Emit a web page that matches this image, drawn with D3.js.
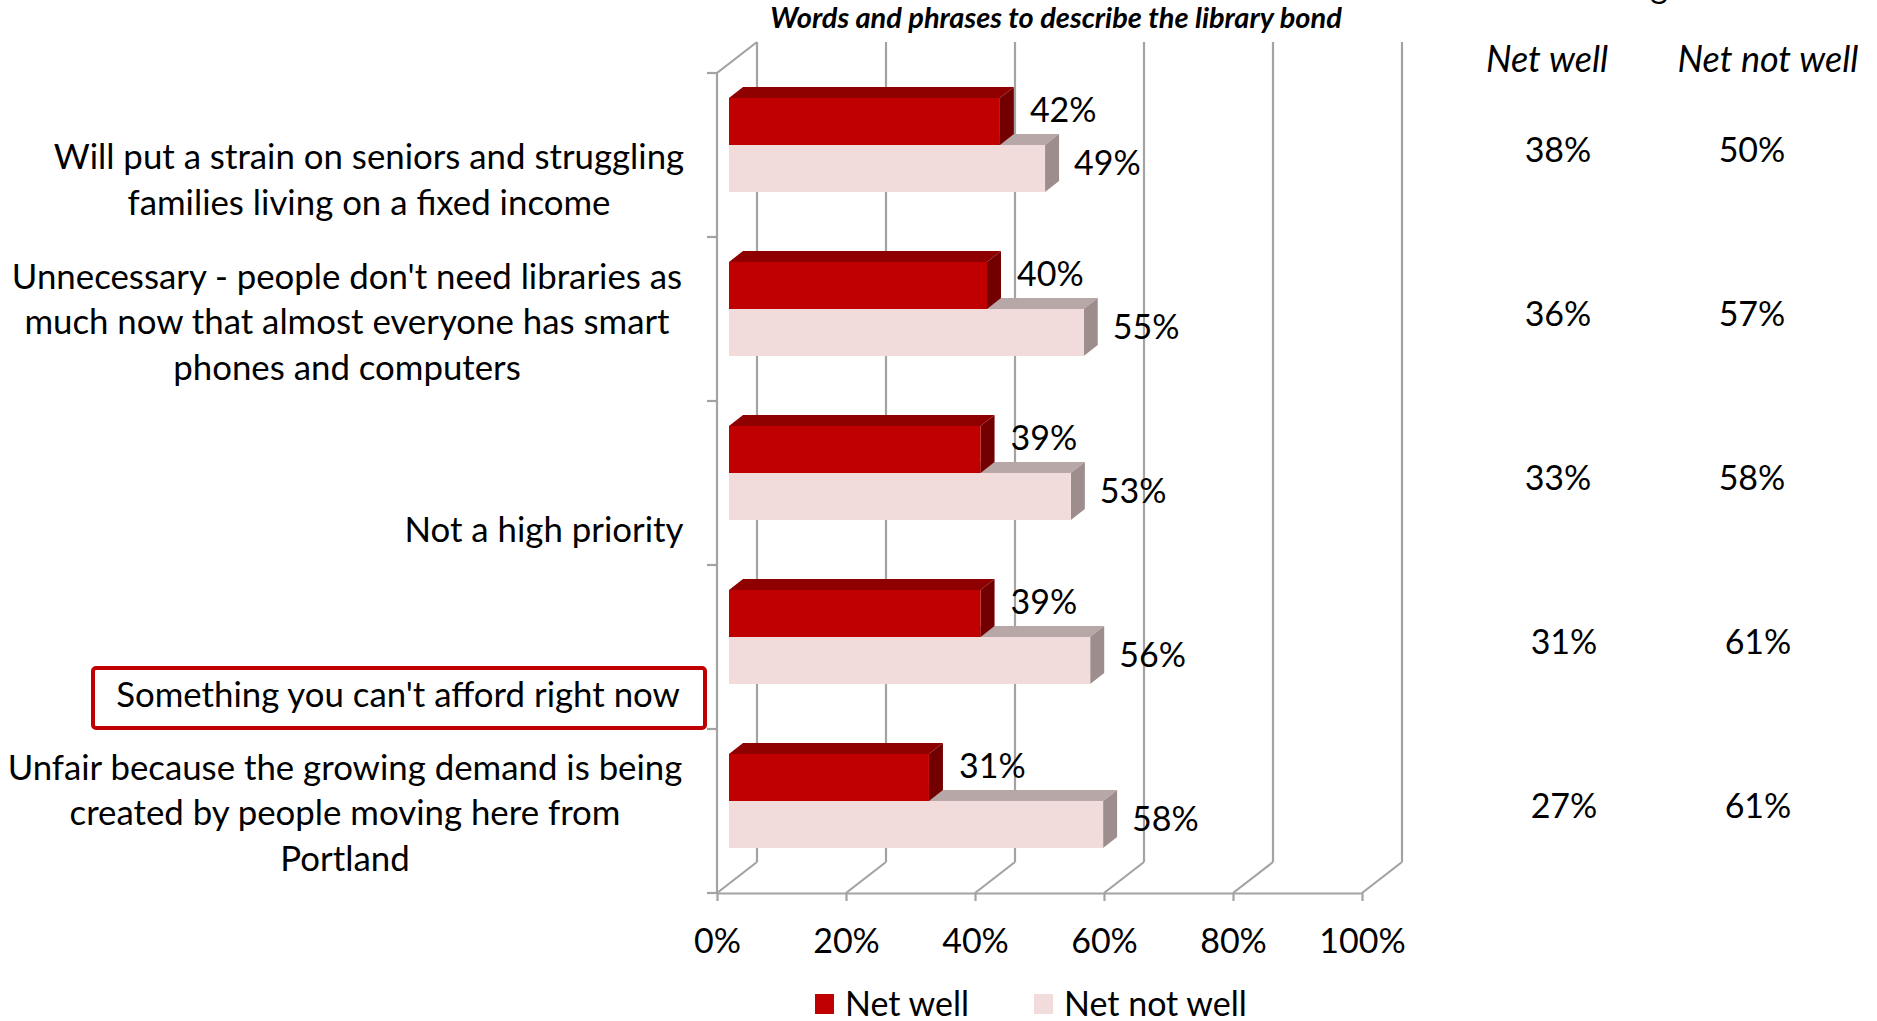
<!DOCTYPE html>
<html>
<head>
<meta charset="utf-8">
<script src="https://cdn.jsdelivr.net/npm/d3@7"></script>
<style>
  body { margin: 0; background: #fff; }
  text { font-family: Lato, "Noto Sans", sans-serif; fill: #000; }
</style>
</head>
<body>
<script>
/* data */
const categoryLines = [
  ["Will put a strain on seniors and struggling", "families living on a fixed income"],
  ["Unnecessary - people don't need libraries as", "much now that almost everyone has smart", "phones and computers"],
  ["Not a high priority"],
  ["Something you can't afford right now"],
  ["Unfair because the growing demand is being", "created by people moving here from", "Portland"]
];
const netWell = [42, 40, 39, 39, 31];
const netNotWell = [49, 55, 53, 56, 58];
const tableNetWell = [38, 36, 33, 31, 27];
const tableNetNotWell = [50, 57, 58, 61, 61];
const xTicks = [0, 20, 40, 60, 80, 100];
const seriesNames = ["Net well", "Net not well"];
const highlighted = 3; // boxed category

/* layout */
const width = 1877, height = 1021;
const fs = 34;          // numbers
const catFs = 34.8;     // category text
const depthX = 40, depthY = 31;      // wall depth
const barDX = 14, barDY = 11;        // bar depth
const barShift = 12;                 // bars sit a bit into the depth
const barH = 47;
const labelShift = [25, 3, 47, 48, 2]; // category text offsets from band centre
const colors = {
  well: { front: "#c00000", top: "#8e0000", side: "#730000" },
  notWell: { front: "#f2dcdb", top: "#b8a7a7", side: "#9d8d8d" },
  grid: "#a3a3a3"
};

const svg = d3.select('body').append('svg')
  .attr('width', width)
  .attr('height', height);

const x = d3.scaleLinear().domain([0, 100]).range([717, 1362]);
const y = d3.scaleBand().domain(d3.range(categoryLines.length)).range([73, 893]);
const yTop = y.range()[0], yBottom = y.range()[1];

/* walls and gridlines */
const grid = svg.append('g')
  .attr('stroke', colors.grid)
  .attr('stroke-width', 2.2)
  .attr('fill', 'none');

grid.selectAll('.back')
  .data(xTicks)
  .join('line')
  .attr('x1', d => x(d) + depthX).attr('x2', d => x(d) + depthX)
  .attr('y1', yTop - depthY).attr('y2', yBottom - depthY);

grid.selectAll('.floor')
  .data(xTicks)
  .join('line')
  .attr('x1', d => x(d)).attr('x2', d => x(d) + depthX)
  .attr('y1', yBottom).attr('y2', yBottom - depthY);

// left wall front edge + top edge
grid.append('path')
  .attr('d', `M${x(0) + depthX},${yTop - depthY}L${x(0)},${yTop}L${x(0)},${yBottom}`);

// category ticks on the wall
grid.selectAll('.ytick')
  .data(d3.range(categoryLines.length + 1))
  .join('line')
  .attr('x1', x(0) - 10).attr('x2', x(0))
  .attr('y1', i => i < categoryLines.length ? y(i) : yBottom)
  .attr('y2', i => i < categoryLines.length ? y(i) : yBottom);

/* x axis */
const xAxis = d3.axisBottom(x)
  .tickValues(xTicks)
  .tickFormat(d => d + '%')
  .tickSizeInner(8)
  .tickSizeOuter(0)
  .tickPadding(28);

const axisG = svg.append('g')
  .attr('transform', `translate(0,${yBottom})`)
  .call(xAxis);
axisG.selectAll('path, line').attr('stroke', colors.grid).attr('stroke-width', 2.2);
axisG.selectAll('text')
  .attr('font-size', fs)
  .style('font-family', 'Lato, sans-serif')
  .attr('fill', '#000');

/* 3d bars */
function bar3d(g, x0, x1, top, h, c) {
  g.append('polygon')
    .attr('points', [[x0, top], [x0 + barDX, top - barDY], [x1 + barDX, top - barDY], [x1, top]].join(' '))
    .attr('fill', c.top);
  g.append('polygon')
    .attr('points', [[x1, top], [x1 + barDX, top - barDY], [x1 + barDX, top + h - barDY], [x1, top + h]].join(' '))
    .attr('fill', c.side);
  g.append('rect')
    .attr('x', x0).attr('y', top)
    .attr('width', x1 - x0).attr('height', h)
    .attr('fill', c.front);
}

const bars = svg.append('g');
categoryLines.forEach((_, i) => {
  const g = bars.append('g');
  const top = y(i) + 25;
  // lower bar first so the upper one covers its top face
  bar3d(g, x(0) + barShift, x(netNotWell[i]) + barShift, top + barH, barH, colors.notWell);
  bar3d(g, x(0) + barShift, x(netWell[i]) + barShift, top, barH, colors.well);

  g.append('text')
    .attr('x', x(netWell[i]) + barShift + 30)
    .attr('y', top + barH / 2 - 11)
    .attr('dy', '0.35em')
    .attr('font-size', fs)
    .text(netWell[i] + '%');
  g.append('text')
    .attr('x', x(netNotWell[i]) + barShift + 29)
    .attr('y', top + barH * 1.5 - 5)
    .attr('dy', '0.35em')
    .attr('font-size', fs)
    .text(netNotWell[i] + '%');
});

/* category labels */
const labelX = [369, 347, 544, 398, 345];
const lineH = 45.5;
const labels = svg.append('g').attr('text-anchor', 'middle').attr('font-size', catFs);
categoryLines.forEach((lines, i) => {
  const cy = y(i) + y.bandwidth() / 2 + labelShift[i];
  const t = labels.append('text')
    .attr('x', labelX[i])
    .attr('y', cy - (lines.length - 1) * lineH / 2);
  t.selectAll('tspan')
    .data(lines)
    .join('tspan')
    .attr('x', labelX[i])
    .attr('dy', (d, j) => j === 0 ? '0.35em' : lineH)
    .text(d => d);
  if (i === highlighted) {
    labels.insert('rect', 'text')
      .attr('x', labelX[i] - 305).attr('y', cy - 27)
      .attr('width', 612).attr('height', 60)
      .attr('rx', 3)
      .attr('fill', 'none')
      .attr('stroke', '#c00000')
      .attr('stroke-width', 4);
  }
});

/* title */
svg.append('text')
  .attr('x', 1056).attr('y', 18)
  .attr('dy', '0.35em')
  .attr('text-anchor', 'middle')
  .attr('font-size', 29)
  .attr('font-weight', 'bold')
  .attr('font-style', 'italic')
  .text('Words and phrases to describe the library bond');

// header cut off at the top edge
svg.append('text')
  .attr('x', 1668).attr('y', -2)
  .attr('text-anchor', 'end')
  .attr('font-size', fs)
  .text('Rating');

/* side table */
const colX = [1558, 1752];
const headX = [1547, 1768];
const table = svg.append('g').attr('text-anchor', 'middle').attr('font-size', fs);
seriesNames.forEach((name, k) => {
  table.append('text')
    .attr('x', headX[k]).attr('y', 59)
    .attr('dy', '0.35em')
    .attr('font-size', 36)
    .attr('font-style', 'italic')
    .text(name);
});
[tableNetWell, tableNetNotWell].forEach((vals, k) => {
  table.selectAll(null)
    .data(vals)
    .join('text')
    .attr('x', (d, i) => colX[k] + (i > 2 ? 6 : 0))
    .attr('y', (d, i) => y(i) + y.bandwidth() / 2 - 5)
    .attr('dy', '0.35em')
    .text(d => d + '%');
});

/* legend */
const legend = svg.append('g').attr('transform', 'translate(815,992)');
const legendX = [0, 219];
seriesNames.forEach((name, k) => {
  legend.append('rect')
    .attr('x', legendX[k]).attr('y', 2)
    .attr('width', 19).attr('height', 20)
    .attr('fill', k === 0 ? colors.well.front : colors.notWell.front);
  legend.append('text')
    .attr('x', legendX[k] + 30).attr('y', 12)
    .attr('dy', '0.35em')
    .attr('font-size', fs)
    .text(name);
});
</script>
</body>
</html>
